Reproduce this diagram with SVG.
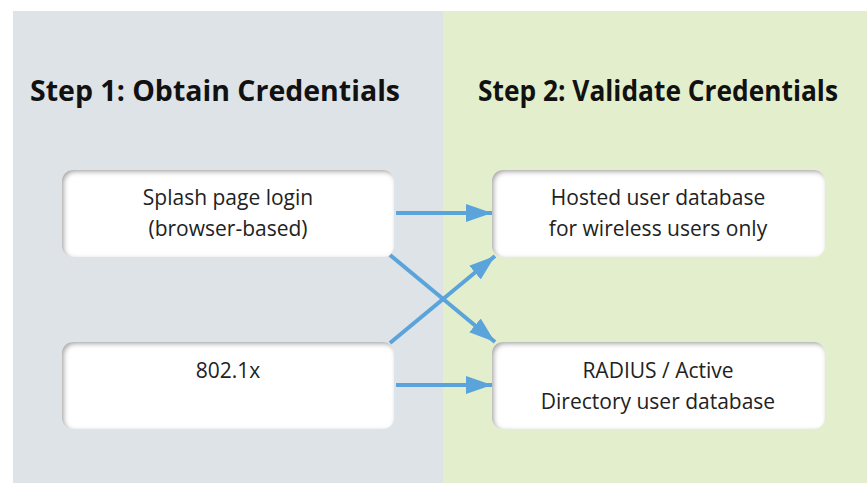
<svg xmlns="http://www.w3.org/2000/svg" width="867" height="483" viewBox="0 0 867 483">
<style>
.title{font-family:"Open Sans","Liberation Sans",sans-serif;font-weight:bold;font-size:28px;fill:#111;text-anchor:middle}
.lbl{font-family:"Open Sans","Liberation Sans",sans-serif;font-size:21px;fill:#222;text-anchor:middle}
.box{fill:#fff;filter:url(#inner)}
.conn{stroke:#5ba4db;stroke-width:4;fill:none;marker-end:url(#ah)}
</style>
<defs>
<filter id="inner" x="-10%" y="-10%" width="120%" height="120%">
<feComponentTransfer in="SourceAlpha"><feFuncA type="table" tableValues="1 0"/></feComponentTransfer>
<feOffset dx="2" dy="2"/>
<feGaussianBlur stdDeviation="2.5" result="shadow"/>
<feFlood flood-color="#777" flood-opacity="0.8"/>
<feComposite in2="shadow" operator="in"/>
<feComposite in2="SourceAlpha" operator="in" result="inner"/>
<feMerge><feMergeNode in="SourceGraphic"/><feMergeNode in="inner"/></feMerge>
</filter>
<marker id="ah" markerUnits="userSpaceOnUse" markerWidth="28" markerHeight="20" refX="26" refY="9" orient="auto">
<path d="M0,0 L26,9 L0,18 Z" fill="#5ba4db"/>
</marker>
</defs>
<rect x="0" y="0" width="867" height="483" fill="#fff"/>
<rect x="13" y="11" width="430" height="472" fill="#dee3e8"/>
<rect x="443" y="11" width="424" height="472" fill="#e3efcc"/>
<text class="title" x="215" y="101" textLength="370" lengthAdjust="spacingAndGlyphs">Step 1: Obtain Credentials</text>
<text class="title" x="658" y="101" textLength="360" lengthAdjust="spacingAndGlyphs">Step 2: Validate Credentials</text>
<g id="connectors">
<line class="conn" x1="396" y1="213" x2="492" y2="213"/>
<line class="conn" x1="390" y1="255" x2="495" y2="342"/>
<line class="conn" x1="390" y1="343" x2="495" y2="256"/>
<line class="conn" x1="396" y1="385" x2="492" y2="385"/>
</g>
<g id="splash">
<rect class="box" x="62" y="170" width="332" height="87" rx="11"/>
<text class="lbl" x="228" y="205">Splash page login</text>
<text class="lbl" x="228" y="236">(browser-based)</text>
</g>
<g id="dot1x">
<rect class="box" x="62" y="342" width="332" height="87" rx="11"/>
<text class="lbl" x="228" y="378">802.1x</text>
</g>
<g id="hosted">
<rect class="box" x="492" y="170" width="333" height="87" rx="11"/>
<text class="lbl" x="658" y="205">Hosted user database</text>
<text class="lbl" x="658" y="236">for wireless users only</text>
</g>
<g id="radius">
<rect class="box" x="492" y="342" width="333" height="87" rx="11"/>
<text class="lbl" x="658" y="378">RADIUS / Active</text>
<text class="lbl" x="658" y="409">Directory user database</text>
</g>
</svg>
